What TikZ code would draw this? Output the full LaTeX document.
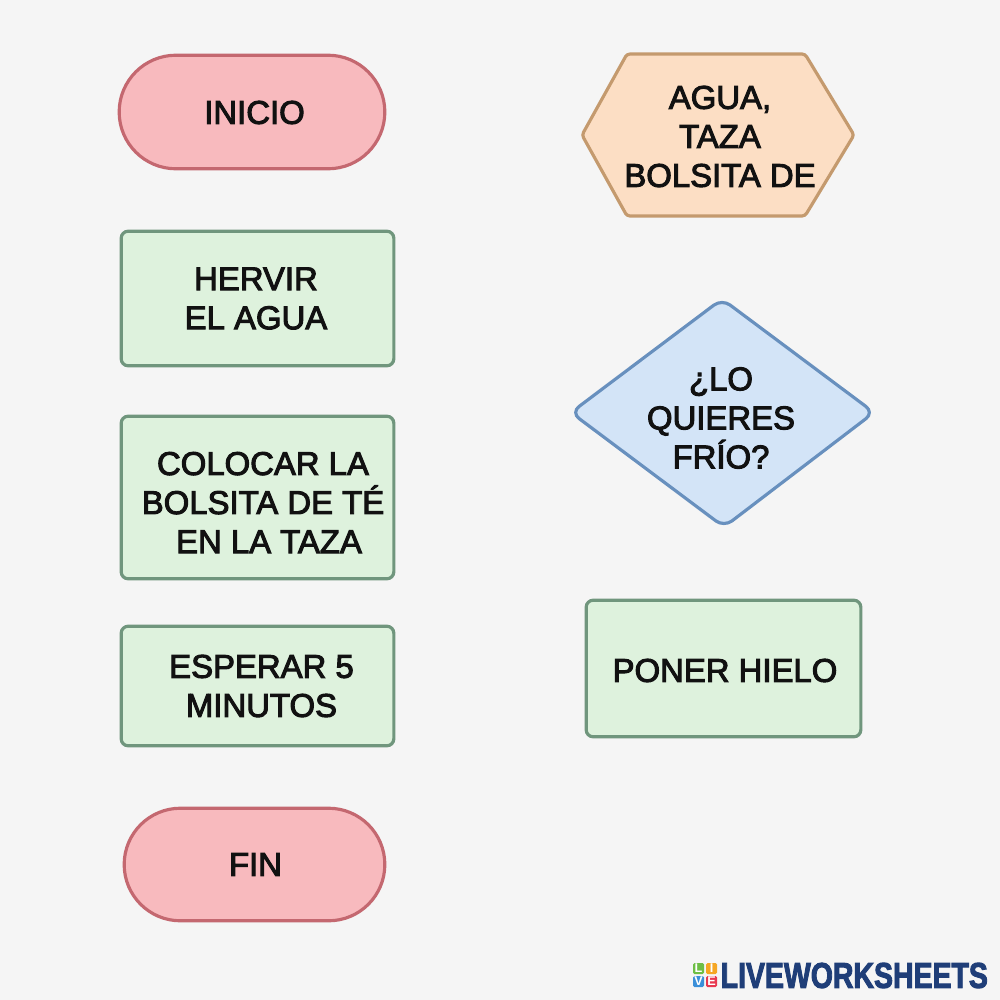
\documentclass[tikz,border=0pt]{standalone}
\usepackage{fontspec}
\setmainfont{Liberation Sans}
\newfontfamily\txtfont[FakeBold=3]{Liberation Sans}
\newfontfamily\logofont[FakeBold=3]{Liberation Sans Bold}
\usetikzlibrary{shapes.misc}
\definecolor{bg}{HTML}{F5F5F5}
\definecolor{pinkfill}{HTML}{F8BABE}
\definecolor{pinkline}{HTML}{C46870}
\definecolor{greenfill}{HTML}{DEF2DD}
\definecolor{greenline}{HTML}{70967D}
\definecolor{peachfill}{HTML}{FCDEC4}
\definecolor{peachline}{HTML}{C49A6E}
\definecolor{bluefill}{HTML}{D3E4F7}
\definecolor{blueline}{HTML}{6890BE}
\definecolor{txt}{HTML}{111111}
\definecolor{navy}{HTML}{1F3E78}
\definecolor{lgreen}{HTML}{6DBE45}
\definecolor{lyellow}{HTML}{F5A623}
\definecolor{lblue}{HTML}{3B8FD9}
\definecolor{lred}{HTML}{E8384F}
\tikzset{
  term/.style={rounded rectangle, draw=pinkline, fill=pinkfill, line width=0.9pt, inner sep=0pt},
  proc/.style={rectangle, rounded corners=0.07cm, draw=greenline, fill=greenfill, line width=0.9pt, inner sep=0pt},
  hexa/.style={draw=peachline, fill=peachfill, line width=0.9pt, rounded corners=0.03cm},
  dia/.style={draw=blueline, fill=bluefill, line width=0.9pt, rounded corners=0.1cm},
  lbl/.style={font=\txtfont\fontsize{9.35}{11.1}\selectfont, text=txt, align=center, inner sep=0pt},
  tile/.style={rectangle, rounded corners=0.015cm, minimum size=0.11cm, inner sep=0pt, text=white, font=\bfseries\fontsize{3.6}{3.6}\selectfont}
}
\begin{document}
\begin{tikzpicture}[x=0.01cm,y=-0.01cm]
\fill[bg] (0,0) rectangle (1000,1000);
\useasboundingbox (0,0) rectangle (1000,1000);

% left column
\node[term, minimum width=2.655cm, minimum height=1.135cm] (inicio) at (252,112) {};
\node[lbl] (inicioT) at (254.5,112.5) {INICIO};

\node[proc, minimum width=2.725cm, minimum height=1.345cm] (hervir) at (257.5,298.5) {};
\node[lbl] (hervirT) at (256,298.5) {HERVIR\\EL AGUA};

\node[proc, minimum width=2.725cm, minimum height=1.625cm] (colocar) at (257.5,497.5) {};
\node[lbl] (colocarT) at (263,502.5) {COLOCAR LA\\BOLSITA DE TÉ\\\hspace*{0.12cm}EN LA TAZA};

\node[proc, minimum width=2.725cm, minimum height=1.195cm] (esperar) at (257.5,686) {};
\node[lbl] (esperarT) at (261.5,686) {ESPERAR 5\\MINUTOS};

\node[term, minimum width=2.605cm, minimum height=1.125cm] (fin) at (254.5,864.5) {};
\node[lbl] (finT) at (255.5,864.5) {FIN};

% right column
\draw[hexa] (582,135) -- (627,54) -- (805,54) -- (854,135) -- (805,216) -- (627,216) -- cycle;
\node[lbl] (hexT) at (720,136.5) {AGUA,\\TAZA\\BOLSITA DE};

\draw[dia] (722,299) -- (874,412.5) -- (724,527) -- (571,412.5) -- cycle;
\node[lbl] (diaT) at (721,418) {¿LO\\QUIERES\\FRÍO?};

\node[proc, minimum width=2.745cm, minimum height=1.365cm] (poner) at (723.5,668.5) {};
\node[lbl] (ponerT) at (725,670.5) {PONER HIELO};

% logo
\node[tile, fill=lgreen] (tL) at (698.5,968.5) {L};
\node[tile, fill=lyellow] (tI) at (711.5,968.5) {I};
\node[tile, fill=lblue] (tV) at (698.5,981.5) {V};
\node[tile, fill=lred] (tE) at (711.5,981.5) {E};
\node[anchor=west, inner sep=0pt, text=navy] (logo) at (720,975.5) {\resizebox{2.67cm}{0.25cm}{\logofont LIVEWORKSHEETS}};
\end{tikzpicture}
\end{document}
